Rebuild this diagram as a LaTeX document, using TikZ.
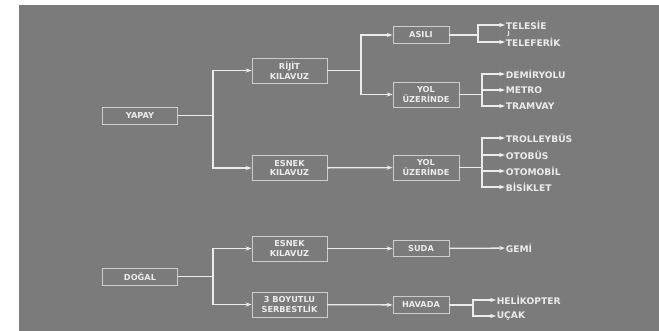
\documentclass[tikz,border=0pt]{standalone}
\usepackage{fontspec}
\setmainfont{DejaVu Sans}
\usepackage{xcolor}
\definecolor{panel}{RGB}{123,123,123}
\definecolor{ink}{RGB}{236,236,236}
\definecolor{frame}{RGB}{205,205,205}
\usetikzlibrary{arrows.meta,positioning}

\begin{document}
\begin{tikzpicture}[
  x=0.03cm,
  y=-0.03cm,
  >={Stealth[length=5pt,width=3.6pt]},
  box/.style={draw=frame,line width=0.8pt,text=ink,
    font=\fontsize{7}{8.5}\selectfont\bfseries,align=center,inner sep=0pt},
  rootbox/.style={box,minimum width=2.25cm,minimum height=0.51cm},
  midbox/.style={box,minimum width=2.25cm,minimum height=0.75cm},
  yolbox/.style={box,minimum width=1.98cm,minimum height=0.75cm},
  smallbox/.style={box,minimum width=1.68cm,minimum height=0.5cm},
  leaf/.style={text=ink,font=\fontsize{7.8}{8}\selectfont\bfseries,
    anchor=west,inner sep=0.5pt},
  link/.style={draw=ink,line width=1.1pt},
  arr/.style={link,->}
]

% Background
\useasboundingbox (0,0) rectangle (659,331);
\fill[panel] (19,5) rectangle (659,331);

% Roots
\node[rootbox] (yapay) at (140,115.5) {YAPAY};
\node[rootbox] (dogal) at (140,276.5) {DOĞAL};

% Second level
\node[midbox] (rijit)  at (289.5,70.5)  {RİJİT\\KILAVUZ};
\node[midbox] (esnekA) at (289.5,168)   {ESNEK\\KILAVUZ};
\node[midbox] (esnekB) at (289.5,248.5) {ESNEK\\KILAVUZ};
\node[midbox] (boyut)  at (289.5,304.5) {3 BOYUTLU\\SERBESTLİK};

% Third level
\node[smallbox] (asili)  at (421,35)    {ASILI};
\node[yolbox]   (yolA)   at (426,94.5)  {YOL\\ÜZERİNDE};
\node[yolbox]   (yolB)   at (426,167.5) {YOL\\ÜZERİNDE};
\node[smallbox] (suda)   at (421,248.5) {SUDA};
\node[smallbox] (havada) at (421,305)   {HAVADA};

% Leaves
\node[leaf] (telesi)  at (505,25)  {TELESİE};
\node[leaf,font=\fontsize{5}{5}\selectfont\bfseries,inner sep=0pt]
  (telj) at (507.5,34) {J};
\node[leaf] (telef)   at (505,42)  {TELEFERİK};
\node[leaf] (demir)   at (505,74)  {DEMİRYOLU};
\node[leaf] (metro)   at (505,90)  {METRO};
\node[leaf] (tramvay) at (505,106) {TRAMVAY};
\node[leaf] (troll)   at (505,138) {TROLLEYBÜS};
\node[leaf] (otobus)  at (505,155) {OTOBÜS};
\node[leaf] (otomob)  at (505,171) {OTOMOBİL};
\node[leaf] (bisik)   at (505,187) {BİSİKLET};
\node[leaf] (gemi)    at (505,248) {GEMİ};
\node[leaf] (heli)    at (496,300) {HELİKOPTER};
\node[leaf] (ucak)    at (496,316) {UÇAK};

% Fork points
\coordinate (fA) at (213,115.5);
\coordinate (fB) at (213,276.5);
\coordinate (fC) at (361,70.5);
\coordinate (fD) at (478,35);
\coordinate (fE) at (482,94.5);
\coordinate (fF) at (482,167.5);
\coordinate (fG) at (473,305);

% YAPAY
\draw[link] (yapay) -- (fA);
\draw[arr] (fA) |- (rijit);
\draw[arr] (fA) |- (esnekA);

\draw[link] (rijit) -- (fC);
\draw[arr] (fC) |- (asili);
\draw[arr] (fC) |- (yolA);

\draw[link] (asili) -- (fD);
\draw[arr] (fD) |- (telesi);
\draw[arr] (fD) |- (telef);

\draw[link] (yolA) -- (fE);
\draw[arr] (fE) |- (demir);
\draw[arr] (fE) |- (metro);
\draw[arr] (fE) |- (tramvay);

\draw[arr] (esnekA) -- (yolB);
\draw[link] (yolB) -- (fF);
\draw[arr] (fF) |- (troll);
\draw[arr] (fF) |- (otobus);
\draw[arr] (fF) |- (otomob);
\draw[arr] (fF) |- (bisik);

% DOGAL
\draw[link] (dogal) -- (fB);
\draw[arr] (fB) |- (esnekB);
\draw[arr] (fB) |- (boyut);

\draw[arr] (esnekB) -- (suda);
\draw[arr] (suda) -- (gemi);

\draw[arr] (boyut) -- (havada);
\draw[link] (havada) -- (fG);
\draw[arr] (fG) |- (heli);
\draw[arr] (fG) |- (ucak);
\end{tikzpicture}
\end{document}
